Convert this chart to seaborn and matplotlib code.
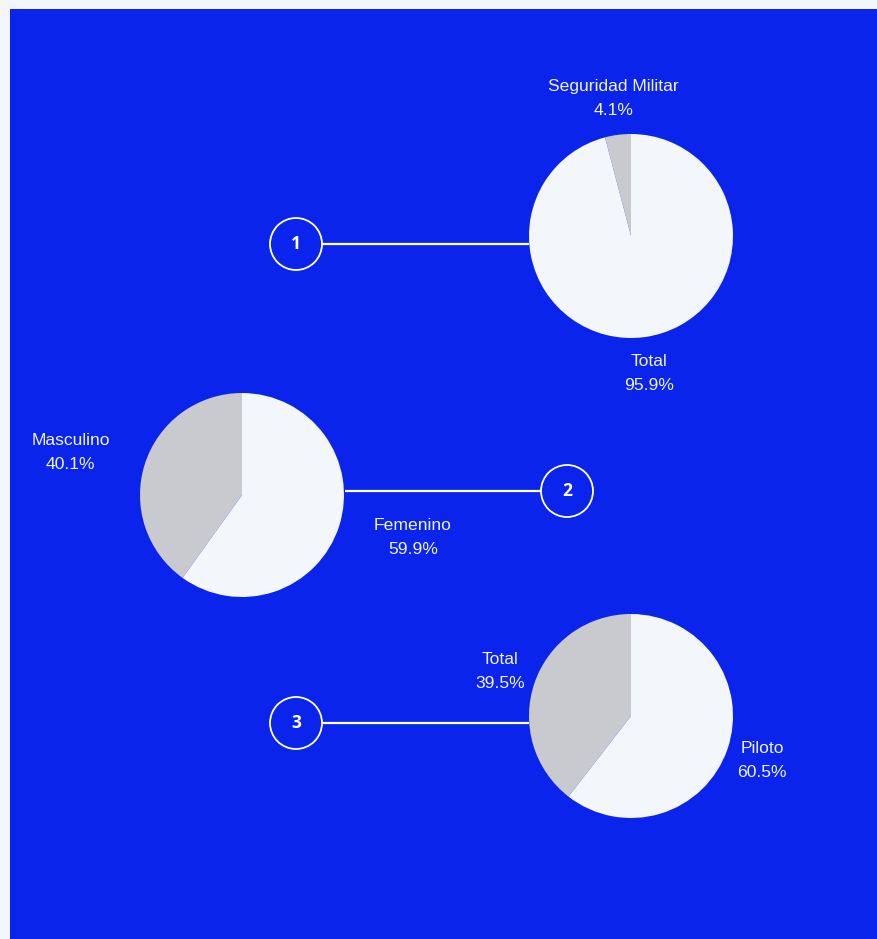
import math
import matplotlib
matplotlib.use("Agg")
import matplotlib.pyplot as plt
from matplotlib.patches import Rectangle, Circle
import seaborn as sns

# data for the three pies (first slice is the grey one, drawn from 12 o'clock)
pie1_labels = ["Seguridad Militar", "Total"]
pie1_values = [4.1, 95.9]
pie2_labels = ["Masculino", "Femenino"]
pie2_values = [40.1, 59.9]
pie3_labels = ["Total", "Piloto"]
pie3_values = [39.5, 60.5]
callout_labels = ["1", "2", "3"]

sns.set_style("white")
plt.rcParams['font.family'] = ['Liberation Sans', 'DejaVu Sans']

BG = '#f3f6fa'
BLUE = '#0a24eb'
slice_colors = ['#c9cacf', '#f3f6fa']
text_color = '#eef2fb'

W, H = 878, 939
fig = plt.figure(figsize=(W / 100, H / 100), dpi=100, facecolor=BG)
ax = fig.add_axes([0, 0, 1, 1])
ax.add_patch(Rectangle((10, 0), W - 10, H - 9, facecolor=BLUE, edgecolor='none', zorder=0))

R = 102
pies = [
    (pie1_labels, pie1_values, (631, H - 236), 'center'),
    (pie2_labels, pie2_values, (242, H - 495), 'side'),
    (pie3_labels, pie3_values, (631, H - 716), 'center'),
]

for labels, values, center, align in pies:
    texts = [f"{n}\n{v:.1f}%" for n, v in zip(labels, values)]
    wedges, lbls = ax.pie(values, labels=texts, colors=slice_colors, startangle=90,
                          counterclock=True, radius=R, center=center, frame=True,
                          labeldistance=1.36,
                          wedgeprops=dict(linewidth=0, antialiased=True),
                          textprops=dict(color=text_color, fontsize=12.6, linespacing=1.75))
    for w, t in zip(wedges, lbls):
        t.set_va('center')
        t.set_multialignment('center')
        if align == 'center':
            t.set_ha('center')
        else:
            mid = math.radians((w.theta1 + w.theta2) / 2)
            t.set_ha('left' if math.cos(mid) > 0 else 'right')

# callout circles with connector lines
callouts = [
    ((296, H - 244), (322, 529)),
    ((567, H - 491), (345, 541)),
    ((296, H - 723), (322, 529)),
]
for lab, ((cx, cy), (x0, x1)) in zip(callout_labels, callouts):
    ax.plot([x0, x1], [cy, cy], color='white', lw=1.6, solid_capstyle='butt', zorder=3)
    ax.add_patch(Circle((cx, cy), 26, facecolor='none', edgecolor='white', lw=1.3, zorder=3))
    ax.text(cx, cy, lab, color='white', fontsize=12.5, fontweight='bold',
            ha='center', va='center', family=['Open Sans', 'DejaVu Sans'], zorder=4)

ax.set_xlim(0, W)
ax.set_ylim(0, H)
ax.set_aspect('equal', adjustable='box')
ax.axis('off')

fig.savefig('out.png', dpi=100, facecolor=BG)
